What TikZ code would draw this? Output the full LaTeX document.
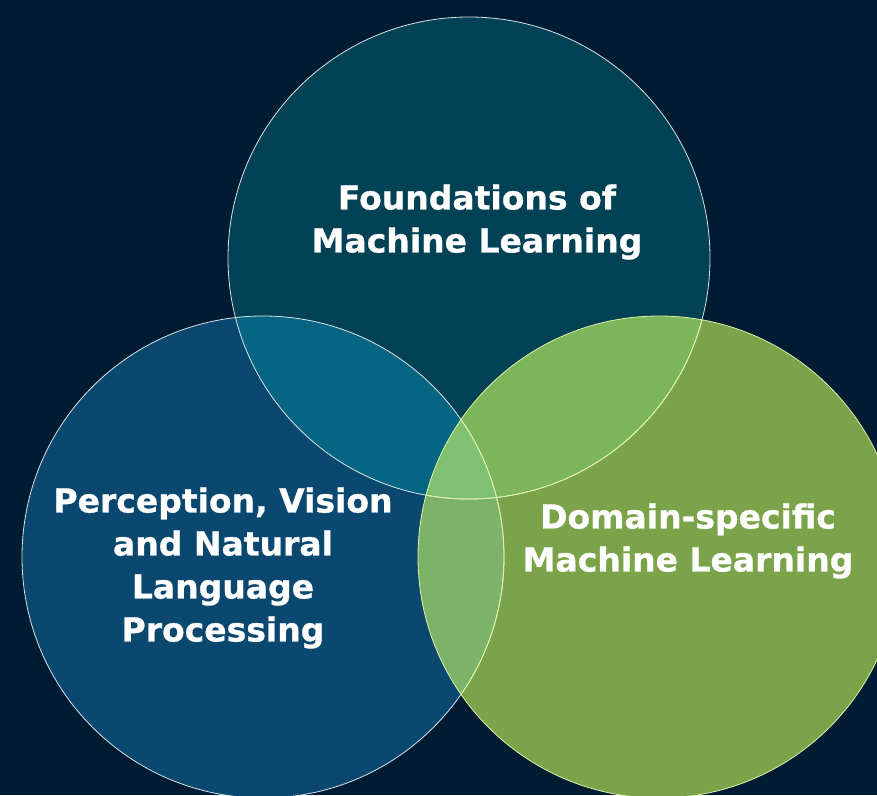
\documentclass[tikz,border=0pt]{standalone}
\usepackage{fontspec}
\setmainfont{DejaVu Sans}[BoldFeatures={FakeBold=0.8}]
\usepackage{tikz}

\definecolor{bgnavy}{HTML}{001C33}
\definecolor{topteal}{HTML}{024254}
\definecolor{leftblue}{HTML}{0B4870}
\definecolor{rightgreen}{HTML}{7BA349}
\definecolor{tlmix}{HTML}{066582}
\definecolor{trmix}{HTML}{7CB55A}
\definecolor{lrmix}{HTML}{7DB368}
\definecolor{allmix}{HTML}{7FC170}
\definecolor{rimgreen}{HTML}{DDF0A8}

\tikzset{
  label text/.style={text=white, align=center, font=\bfseries\fontsize{33}{43}\selectfont},
  rim/.style={draw=white, draw opacity=0.85, line width=0.8pt}
}

\begin{document}
\begin{tikzpicture}[x=1pt, y=-1pt]
  \fill[bgnavy] (0,0) rectangle (877,795);
  \useasboundingbox (0,0) rectangle (877,795);
  \clip (0,0) rectangle (877,795);

  % the three circles
  \coordinate (ctop) at (469,258);
  \coordinate (cleft) at (263,557);
  \coordinate (cright) at (659,557);
  \fill[topteal] (ctop) circle[radius=241pt];
  \fill[leftblue] (cleft) circle[radius=241pt];
  \fill[rightgreen] (cright) circle[radius=241pt];

  % overlaps
  \begin{scope}
    \clip (ctop) circle[radius=241pt];
    \fill[tlmix] (cleft) circle[radius=241pt];
    \fill[trmix] (cright) circle[radius=241pt];
  \end{scope}
  \begin{scope}
    \clip (cleft) circle[radius=241pt];
    \fill[lrmix] (cright) circle[radius=241pt];
    \clip (cright) circle[radius=241pt];
    \fill[allmix] (ctop) circle[radius=241pt];
  \end{scope}

  % outlines
  \draw[rim] (ctop) circle[radius=241pt];
  \draw[rim] (cleft) circle[radius=241pt];
  \begin{scope}
    \clip (cright) circle[radius=241pt];
    \draw[rimgreen, line width=0.8pt] (ctop) circle[radius=241pt];
    \draw[rimgreen, line width=0.8pt] (cleft) circle[radius=241pt];
  \end{scope}
  \draw[rimgreen, line width=0.8pt] (cright) circle[radius=241pt];

  % labels
  \node[label text] (foundations) at (477,222) {Foundations of\\Machine Learning};
  \node[label text] (perception) at (223,568) {Perception, Vision\\and Natural\\Language\\Processing};
  \node[label text] (domain) at (688,541) {Domain-specific\\Machine Learning};
\end{tikzpicture}
\end{document}
